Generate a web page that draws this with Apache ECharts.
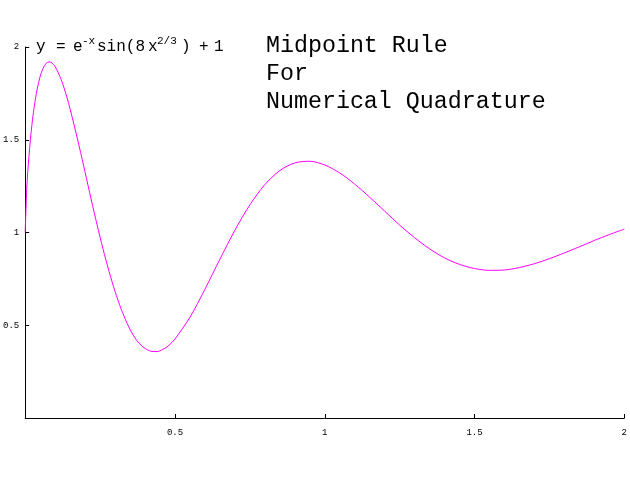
<!DOCTYPE html>
<html><head><meta charset="utf-8">
<script src="https://cdn.jsdelivr.net/npm/echarts@6/dist/echarts.min.js"></script>
<style>html,body{margin:0;padding:0;background:#fff}#c{width:630px;height:480px}</style>
</head><body><div id="c"></div>
<script>
var xValues = [0,0.005,0.01,0.02,0.03,0.04,0.05,0.06,0.07,0.08,0.09,0.10,0.12,0.14,0.16,0.18,0.20,0.22,0.24,0.26,0.28,0.30,0.32,0.34,0.36,0.38,0.40,0.42,0.44,0.46,0.48,0.50,0.55,0.60,0.65,0.70,0.75,0.80,0.85,0.90,0.95,1.00,1.05,1.10,1.15,1.20,1.25,1.30,1.35,1.40,1.45,1.50,1.55,1.60,1.65,1.70,1.75,1.80,1.85,1.90,1.95,2.00];
var yValues = [1.0,1.231,1.359,1.545,1.677,1.773,1.842,1.886,1.912,1.920,1.913,1.894,1.825,1.725,1.601,1.466,1.324,1.180,1.041,0.910,0.790,0.682,0.589,0.511,0.448,0.403,0.375,0.360,0.358,0.370,0.392,0.426,0.543,0.694,0.856,1.012,1.149,1.258,1.334,1.375,1.384,1.364,1.321,1.261,1.190,1.115,1.040,0.972,0.912,0.863,0.828,0.806,0.796,0.798,0.811,0.832,0.859,0.890,0.923,0.957,0.989,1.018];
var xTickLabels = ['', '0.5', '1', '1.5', '2'];
var yTickLabels = ['', '0.5', '1', '1.5', '2'];
var titleLines = ['Midpoint Rule', 'For', 'Numerical Quadrature'];

var mono = '"Liberation Mono", "DejaVu Sans Mono", monospace';
var chart = echarts.init(document.getElementById('c'), null, {renderer: 'canvas'});
var pts = xValues.map(function (x, i) { return [x, yValues[i]]; });

function t(x, y, s, size) {
  return {type: 'text', x: x, y: y, style: {text: s, font: size + 'px ' + mono, fill: '#000', verticalAlign: 'middle', align: 'left'}};
}

var graphics = [];
titleLines.forEach(function (s, i) { graphics.push(t(266, 46 + i * 28, s, 23.3)); });
graphics.push(t(36, 47, 'y', 16));
graphics.push(t(56, 47, '=', 16));
graphics.push(t(73, 47, 'e', 16));
graphics.push(t(82, 41, '-x', 11));
graphics.push(t(97, 47, 'sin(8', 16));
graphics.push(t(148, 47, 'x', 16));
graphics.push(t(157, 41, '2/3', 11));
graphics.push(t(181, 47, ')', 16));
graphics.push(t(199, 47, '+', 16));
graphics.push(t(214, 47, '1', 16));

chart.setOption({
  animation: false,
  backgroundColor: '#fff',
  grid: {left: 25, right: 5, top: 47, bottom: 62},
  xAxis: {
    type: 'value', min: 0, max: 2, interval: 0.5,
    axisLine: {show: true, lineStyle: {color: '#000', width: 1}},
    axisTick: {show: true, inside: true, length: 4, lineStyle: {color: '#000'}},
    splitLine: {show: false},
    axisLabel: {margin: 10, fontSize: 9, fontFamily: mono, color: '#000',
      formatter: function (v) { return xTickLabels[Math.round(v / 0.5)]; }}
  },
  yAxis: {
    type: 'value', min: 0, max: 2, interval: 0.5,
    axisLine: {show: true, lineStyle: {color: '#000', width: 1}},
    axisTick: {show: true, inside: true, length: 4, lineStyle: {color: '#000'}},
    splitLine: {show: false},
    axisLabel: {margin: 6, fontSize: 9, fontFamily: mono, color: '#000',
      formatter: function (v) { return yTickLabels[Math.round(v / 0.5)]; }}
  },
  series: [{
    type: 'line', data: pts, showSymbol: false, smooth: 0.3,
    lineStyle: {color: '#ff00ff', width: 1}, itemStyle: {color: '#ff00ff'}
  }],
  graphic: graphics
});
</script></body></html>
